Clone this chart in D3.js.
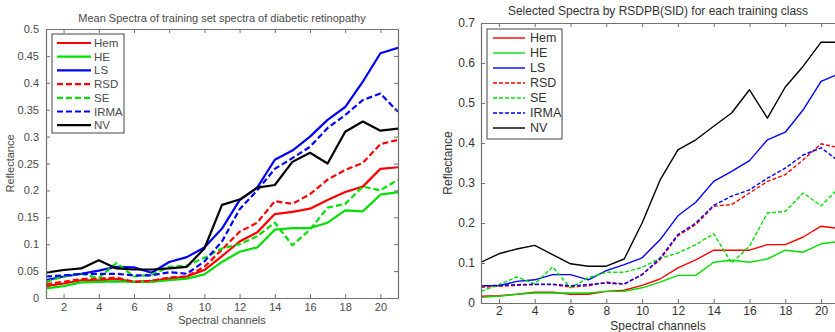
<!DOCTYPE html>
<html>
<head>
<meta charset="utf-8">
<script src="https://cdn.jsdelivr.net/npm/d3@7"></script>
<style>
  body { margin: 0; background: #fff; }
  svg { font-family: "Liberation Sans", Arial, sans-serif; }
</style>
</head>
<body>
<div id="chart"></div>
<script>
// spectral channels 1..21
var channels = [1, 2, 3, 4, 5, 6, 7, 8, 9, 10, 11, 12, 13, 14, 15, 16, 17, 18, 19, 20, 21];
var classNames = ["Hem", "HE", "LS", "RSD", "SE", "IRMA", "NV"];

// left panel: mean spectra
var meanHem  = [0.022, 0.027, 0.033, 0.033, 0.035, 0.030, 0.032, 0.036, 0.040, 0.052, 0.078, 0.105, 0.122, 0.156, 0.160, 0.166, 0.182, 0.197, 0.207, 0.240, 0.243];
var meanHE   = [0.018, 0.022, 0.029, 0.030, 0.031, 0.030, 0.030, 0.033, 0.036, 0.044, 0.067, 0.086, 0.094, 0.127, 0.130, 0.130, 0.140, 0.163, 0.161, 0.192, 0.197];
var meanLS   = [0.033, 0.040, 0.045, 0.051, 0.058, 0.057, 0.047, 0.067, 0.076, 0.094, 0.129, 0.182, 0.205, 0.257, 0.274, 0.300, 0.331, 0.355, 0.402, 0.455, 0.465];
var meanRSD  = [0.026, 0.030, 0.035, 0.036, 0.038, 0.030, 0.032, 0.038, 0.040, 0.058, 0.090, 0.123, 0.140, 0.180, 0.175, 0.193, 0.220, 0.238, 0.251, 0.286, 0.294];
var meanSE   = [0.030, 0.040, 0.045, 0.037, 0.065, 0.040, 0.043, 0.058, 0.060, 0.075, 0.092, 0.100, 0.115, 0.140, 0.098, 0.127, 0.168, 0.175, 0.207, 0.200, 0.220];
var meanIRMA = [0.040, 0.042, 0.045, 0.045, 0.045, 0.042, 0.042, 0.048, 0.045, 0.068, 0.105, 0.165, 0.200, 0.240, 0.260, 0.281, 0.316, 0.340, 0.368, 0.380, 0.346];
var meanNV   = [0.047, 0.052, 0.055, 0.070, 0.055, 0.053, 0.053, 0.055, 0.058, 0.092, 0.173, 0.183, 0.205, 0.210, 0.253, 0.270, 0.250, 0.309, 0.328, 0.311, 0.315];

// right panel: selected spectra
var selHem  = [0.017, 0.018, 0.022, 0.027, 0.027, 0.022, 0.022, 0.029, 0.032, 0.044, 0.060, 0.088, 0.108, 0.132, 0.132, 0.132, 0.146, 0.146, 0.165, 0.192, 0.186];
var selHE   = [0.014, 0.017, 0.022, 0.025, 0.025, 0.025, 0.025, 0.029, 0.029, 0.038, 0.052, 0.069, 0.069, 0.102, 0.107, 0.102, 0.110, 0.132, 0.127, 0.148, 0.154];
var selLS   = [0.043, 0.043, 0.054, 0.058, 0.071, 0.071, 0.058, 0.081, 0.096, 0.113, 0.158, 0.218, 0.252, 0.304, 0.329, 0.356, 0.408, 0.427, 0.483, 0.554, 0.573];
var selRSD  = [0.039, 0.042, 0.044, 0.046, 0.046, 0.040, 0.043, 0.052, 0.048, 0.071, 0.108, 0.168, 0.196, 0.242, 0.246, 0.275, 0.304, 0.321, 0.358, 0.398, 0.388];
var selSE   = [0.029, 0.046, 0.065, 0.048, 0.090, 0.038, 0.063, 0.077, 0.077, 0.089, 0.112, 0.125, 0.146, 0.173, 0.100, 0.142, 0.225, 0.229, 0.275, 0.243, 0.288];
var selIRMA = [0.043, 0.044, 0.046, 0.047, 0.047, 0.043, 0.046, 0.050, 0.047, 0.071, 0.112, 0.171, 0.200, 0.244, 0.267, 0.283, 0.312, 0.337, 0.370, 0.388, 0.354];
var selNV   = [0.102, 0.123, 0.135, 0.144, 0.121, 0.098, 0.092, 0.092, 0.110, 0.200, 0.307, 0.383, 0.408, 0.442, 0.475, 0.533, 0.462, 0.540, 0.592, 0.652, 0.652];

var xTicks = [2, 4, 6, 8, 10, 12, 14, 16, 18, 20];
var leftYTicks = [0, 0.05, 0.1, 0.15, 0.2, 0.25, 0.3, 0.35, 0.4, 0.45, 0.5];
var rightYTicks = [0, 0.1, 0.2, 0.3, 0.4, 0.5, 0.6, 0.7];

var colors = ["#ff0000", "#00e000", "#0000ff", "#ff0000", "#00e000", "#0000ff", "#000000"];
var dashed = [false, false, false, true, true, true, false];

var svg = d3.select("#chart")
    .append("svg")
    .attr("width", 835)
    .attr("height", 332);

function drawPanel(opt) {
    var g = svg.append("g");
    var x = d3.scaleLinear().domain([1, 21]).range([opt.left, opt.right]);
    var y = d3.scaleLinear().domain([0, opt.yMax]).range([opt.bottom, opt.top]);

    var clipId = "clip" + opt.id;
    svg.append("clipPath").attr("id", clipId)
        .append("rect")
        .attr("x", opt.left).attr("y", opt.top)
        .attr("width", opt.right - opt.left).attr("height", opt.bottom - opt.top);

    // lines
    var line = d3.line()
        .x((d, i) => x(channels[i]))
        .y(d => y(d));
    opt.series.forEach(function (s, i) {
        g.append("path")
            .attr("clip-path", "url(#" + clipId + ")")
            .attr("d", line(s))
            .attr("fill", "none")
            .attr("stroke", colors[i])
            .attr("stroke-width", opt.lw)
            .attr("stroke-linejoin", "round")
            .attr("stroke-dasharray", dashed[i] ? opt.dash : null);
    });

    var tl = opt.tickLen;
    var axisColor = "#707070";

    // bottom / top axes with inward ticks
    var bottomAxis = g.append("g")
        .attr("transform", `translate(0, ${opt.bottom})`)
        .call(d3.axisBottom(x).tickValues(xTicks).tickSizeInner(-tl).tickSizeOuter(0).tickPadding(opt.xPad));
    var topAxis = g.append("g")
        .attr("transform", `translate(0, ${opt.top})`)
        .call(d3.axisTop(x).tickValues(xTicks).tickSizeInner(-tl).tickSizeOuter(0).tickFormat(""));
    var leftAxis = g.append("g")
        .attr("transform", `translate(${opt.left}, 0)`)
        .call(d3.axisLeft(y).tickValues(opt.yTicks).tickSizeInner(-tl).tickSizeOuter(0).tickPadding(opt.yPad)
            .tickFormat(d3.format("~g")));
    var rightAxis = g.append("g")
        .attr("transform", `translate(${opt.right}, 0)`)
        .call(d3.axisRight(y).tickValues(opt.yTicks).tickSizeInner(-tl).tickSizeOuter(0).tickFormat(""));

    [bottomAxis, topAxis, leftAxis, rightAxis].forEach(function (a) {
        a.select(".domain").attr("stroke", axisColor).attr("stroke-width", 1.2);
        a.selectAll(".tick line").attr("stroke", axisColor);
        a.selectAll("text")
            .attr("fill", opt.textColor)
            .style("font-size", opt.tickFont + "px")
            .style("font-family", "Liberation Sans, Arial, sans-serif");
    });

    // title
    g.append("text")
        .attr("x", (opt.left + opt.right) / 2 + opt.titleDx)
        .attr("y", opt.titleY)
        .attr("text-anchor", "middle")
        .attr("fill", opt.textColor)
        .style("font-size", opt.titleFont + "px")
        .text(opt.title);

    // axis labels
    g.append("text")
        .attr("x", (opt.left + opt.right) / 2 + opt.titleDx)
        .attr("y", opt.xLabelY)
        .attr("text-anchor", "middle")
        .attr("fill", opt.textColor)
        .style("font-size", opt.labelFont + "px")
        .text("Spectral channels");

    g.append("text")
        .attr("transform", `translate(${opt.yLabelX}, ${(opt.top + opt.bottom) / 2}) rotate(-90)`)
        .attr("text-anchor", "middle")
        .attr("fill", opt.textColor)
        .style("font-size", opt.labelFont + "px")
        .text("Reflectance");

    // legend
    var lg = opt.legend;
    g.append("rect")
        .attr("x", lg.x).attr("y", lg.y)
        .attr("width", lg.w).attr("height", lg.h)
        .attr("fill", "#fff")
        .attr("stroke", "#444")
        .attr("stroke-width", 1);
    classNames.forEach(function (name, i) {
        var yy = lg.y + lg.first + i * lg.step;
        g.append("line")
            .attr("x1", lg.x + lg.lineX0).attr("x2", lg.x + lg.lineX1)
            .attr("y1", yy).attr("y2", yy)
            .attr("stroke", colors[i])
            .attr("stroke-width", opt.lw)
            .attr("stroke-dasharray", dashed[i] ? opt.dash : null);
        g.append("text")
            .attr("x", lg.x + lg.textX)
            .attr("y", yy)
            .attr("dy", "0.35em")
            .attr("fill", opt.textColor)
            .style("font-size", lg.font + "px")
            .text(name);
    });
}

drawPanel({
    id: "L",
    left: 46, right: 398, top: 29, bottom: 298,
    yMax: 0.5, yTicks: leftYTicks,
    series: [meanHem, meanHE, meanLS, meanRSD, meanSE, meanIRMA, meanNV],
    lw: 2.2, dash: "6,3", tickLen: 4, xPad: 5, yPad: 7,
    textColor: "#4a4a4a", tickFont: 11, titleFont: 11, labelFont: 11,
    title: "Mean Spectra of training set spectra of diabetic retinopathy",
    titleDx: 0, titleY: 22, xLabelY: 324, yLabelX: 14,
    legend: { x: 52, y: 34, w: 72, h: 99, first: 9, step: 13.7, lineX0: 5, lineX1: 39, textX: 42, font: 11.5 }
});

drawPanel({
    id: "R",
    left: 481, right: 839, top: 23, bottom: 303,
    yMax: 0.7, yTicks: rightYTicks,
    series: [selHem, selHE, selLS, selRSD, selSE, selIRMA, selNV],
    lw: 1.4, dash: "4,2", tickLen: 4, xPad: 3, yPad: 6,
    textColor: "#333", tickFont: 12, titleFont: 12, labelFont: 12,
    title: "Selected Spectra by RSDPB(SID) for each training class",
    titleDx: -2, titleY: 15, xLabelY: 330, yLabelX: 452,
    legend: { x: 487, y: 29, w: 75, h: 110, first: 9, step: 15, lineX0: 6, lineX1: 38, textX: 43, font: 12.5 }
});
</script>
</body>
</html>
